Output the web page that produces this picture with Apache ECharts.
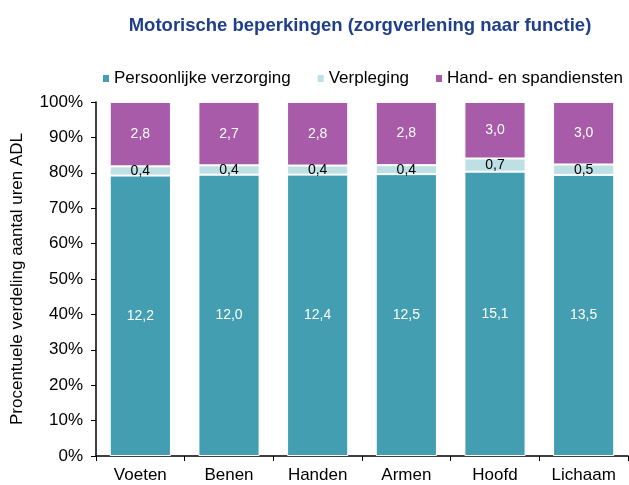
<!DOCTYPE html>
<html>
<head>
<meta charset="utf-8">
<script src="https://cdn.jsdelivr.net/npm/echarts@6/dist/echarts.min.js"></script>
<style>
html, body { margin: 0; padding: 0; background: #fff; }
#chart { width: 629px; height: 485px; }
</style>
</head>
<body>
<div id="chart"></div>
<script>
var categories = ['Voeten', 'Benen', 'Handen', 'Armen', 'Hoofd', 'Lichaam'];
var verzorging = [12.2, 12.0, 12.4, 12.5, 15.1, 13.5];
var verpleging = [0.4, 0.4, 0.4, 0.4, 0.7, 0.5];
var spandiensten = [2.8, 2.7, 2.8, 2.8, 3.0, 3.0];
var yTicks = ['0%', '10%', '20%', '30%', '40%', '50%', '60%', '70%', '80%', '90%', '100%'];

// omzetten naar aandeel per categorie (100% gestapeld)
function toPct(arr) {
    return arr.map(function (v, i) {
        var tot = verzorging[i] + verpleging[i] + spandiensten[i];
        return { value: v / tot * 100, raw: v };
    });
}
function fmt(p) {
    return p.data.raw.toFixed(1).replace('.', ',');
}

var font = 'Liberation Sans, Arial, sans-serif';
var myChart = echarts.init(document.getElementById('chart'));
var option = {
    animation: false,
    title: {
        text: 'Motorische beperkingen (zorgverlening naar functie)',
        left: 355,
        textAlign: 'center',
        top: 11,
        textStyle: { color: '#1F3E8C', fontSize: 18.5, fontWeight: 'bold', fontFamily: font }
    },
    legend: {
        top: 65,
        left: 96,
        itemWidth: 8,
        itemHeight: 9,
        itemGap: 25,
        icon: 'rect',
        textStyle: { color: '#000', fontSize: 17, fontFamily: font, padding: [0, 0, 0, -1] },
        data: ['Persoonlijke verzorging', 'Verpleging', 'Hand- en spandiensten']
    },
    grid: { left: 96, right: 1, top: 102, bottom: 29 },
    xAxis: {
        type: 'category',
        data: categories,
        axisLine: { lineStyle: { color: '#000', width: 1.5 } },
        axisTick: { show: true, length: 5, lineStyle: { color: '#000' } },
        axisLabel: { color: '#000', fontSize: 17, fontFamily: font, margin: 11 }
    },
    yAxis: {
        type: 'value',
        min: 0,
        max: 100,
        interval: 10,
        name: 'Procentuele verdeling aantal uren ADL',
        nameLocation: 'middle',
        nameGap: 70,
        nameTextStyle: { color: '#000', fontSize: 17, fontFamily: font },
        splitLine: { show: false },
        axisLine: { show: true, lineStyle: { color: '#000', width: 1.5 } },
        axisTick: { show: true, length: 5, lineStyle: { color: '#000' } },
        axisLabel: {
            color: '#000', fontSize: 17, fontFamily: font, margin: 13,
            formatter: function (v) { return yTicks[Math.round(v / 10)]; }
        }
    },
    series: [{
        name: 'Persoonlijke verzorging',
        type: 'bar',
        stack: 'tot',
        barWidth: '69%',
        data: toPct(verzorging),
        itemStyle: { color: '#429EB0', borderColor: '#fff', borderWidth: 1 },
        label: { show: true, position: 'inside', color: '#fff', fontSize: 14, fontFamily: font, formatter: fmt }
    }, {
        name: 'Verpleging',
        type: 'bar',
        stack: 'tot',
        data: toPct(verpleging),
        itemStyle: { color: '#BEDFE3', borderColor: '#fff', borderWidth: 1 },
        label: { show: true, position: 'inside', color: '#000', fontSize: 14, fontFamily: font, formatter: fmt }
    }, {
        name: 'Hand- en spandiensten',
        type: 'bar',
        stack: 'tot',
        data: toPct(spandiensten),
        itemStyle: { color: '#A85BA8', borderColor: '#fff', borderWidth: 1 },
        label: { show: true, position: 'inside', color: '#fff', fontSize: 14, fontFamily: font, formatter: fmt }
    }]
};
myChart.setOption(option);
</script>
</body>
</html>
